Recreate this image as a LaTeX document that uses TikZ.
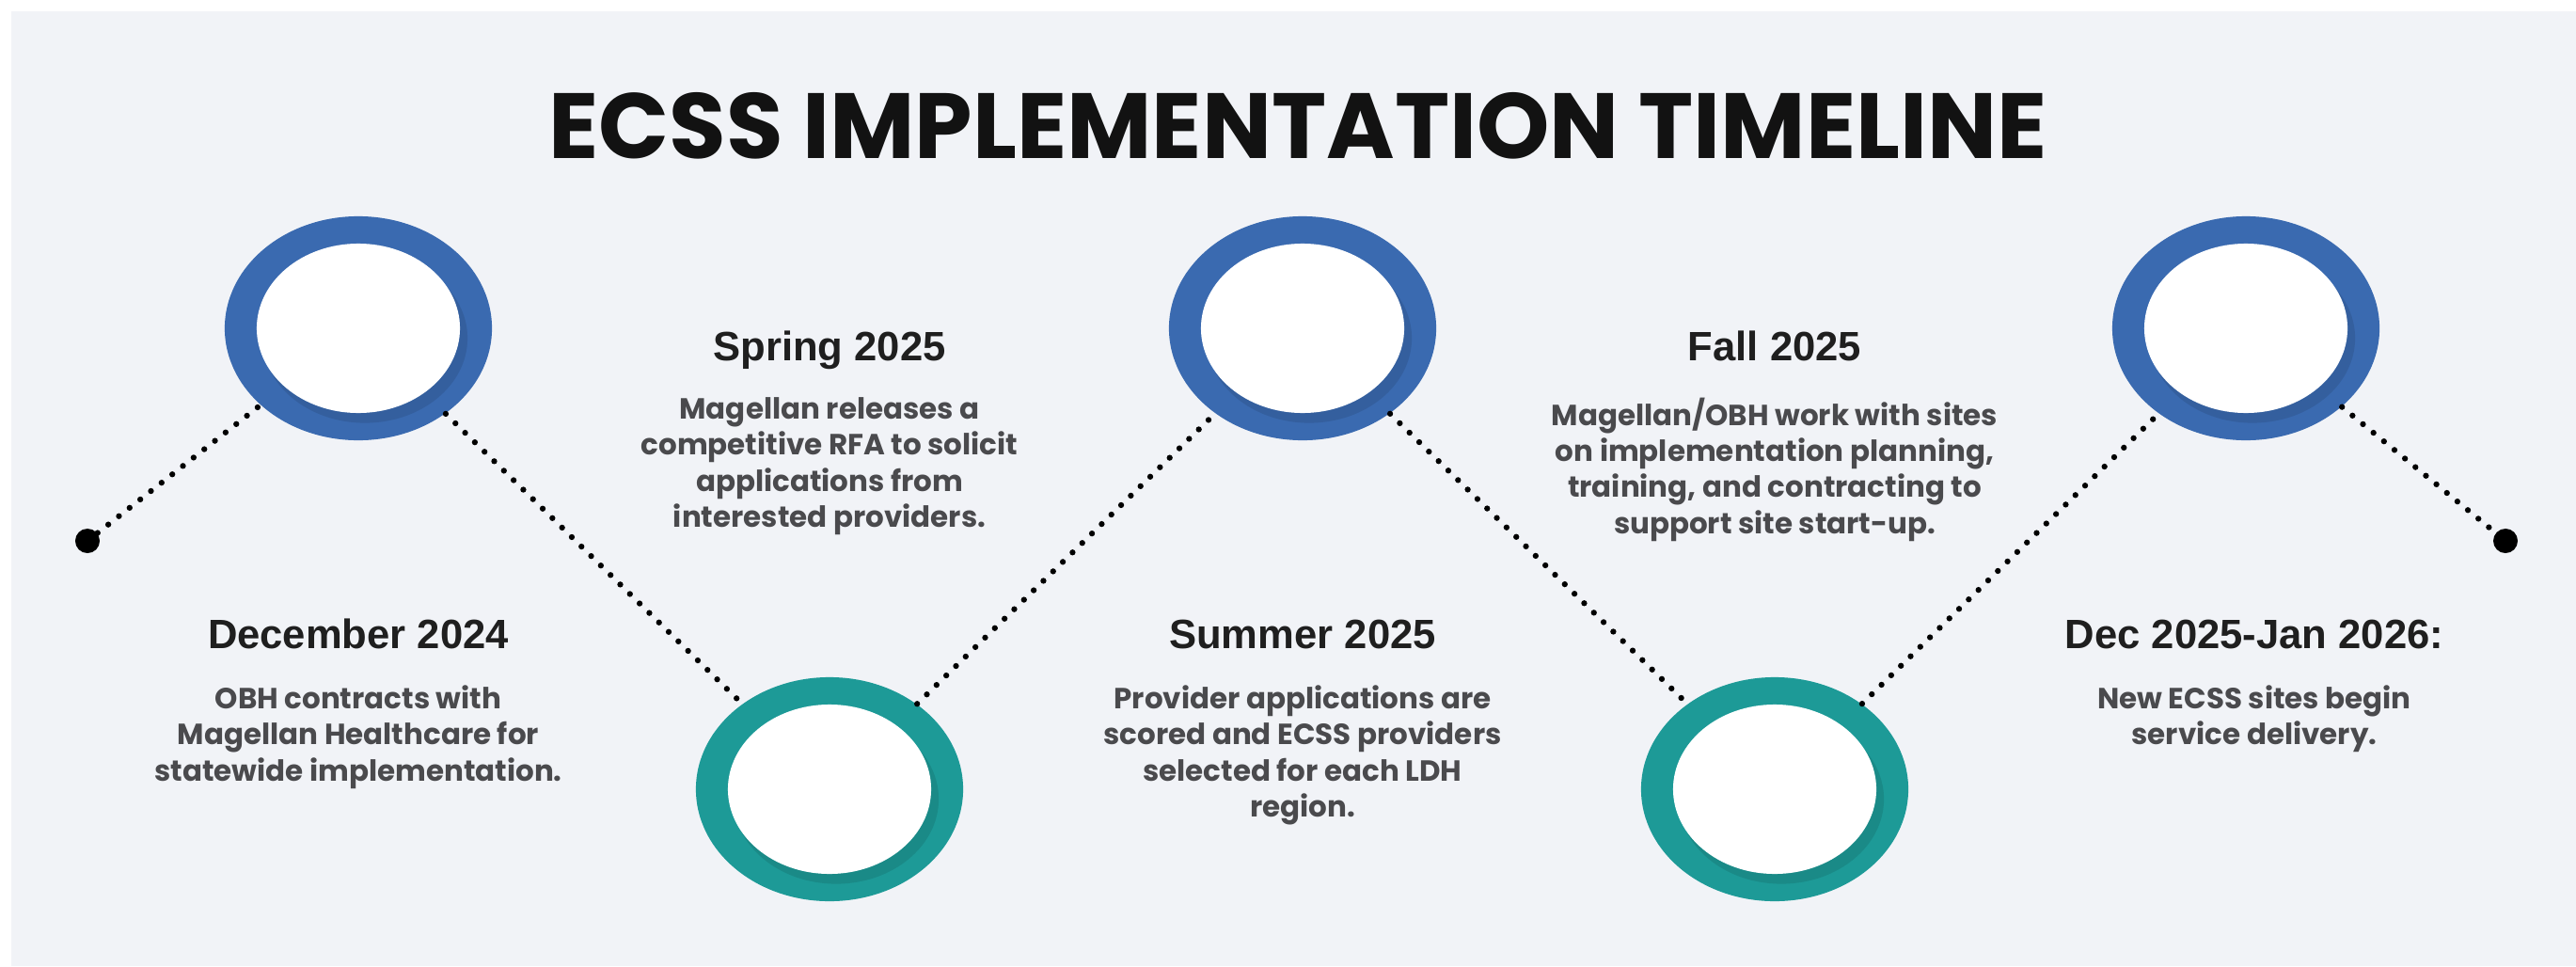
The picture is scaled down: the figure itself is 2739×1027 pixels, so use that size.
\documentclass[tikz,border=0pt]{standalone}
\usepackage{fontspec}
\setmainfont{Liberation Sans}
\newfontfamily\popfont{Poppins}
\usetikzlibrary{shapes.geometric,positioning}
\definecolor{ringblue}{HTML}{3A6AB0}
\definecolor{ringteal}{HTML}{1D9A97}
\definecolor{bggray}{HTML}{F1F3F7}
\definecolor{bodygray}{HTML}{4A4A4D}
\tikzstyle{every picture}+=[
  rnode/.style={shape=ellipse,minimum width=2.84cm,minimum height=2.38cm,inner sep=0pt,
    path picture={
      \fill[black,opacity=.1] ([xshift=2pt,yshift=-3pt]path picture bounding box.center) ellipse [x radius=1.09cm,y radius=0.9cm];
      \fill[white] (path picture bounding box.center) ellipse [x radius=1.08cm,y radius=0.9cm];}},
  bnode/.style={rnode,fill=ringblue},
  tnode/.style={rnode,fill=ringteal},
  dnode/.style={shape=circle,fill=black,minimum size=0.26cm,inner sep=0pt},
  dline/.style={draw=black,line width=1.8pt,line cap=round,dash pattern=on 0pt off 4.1pt},
  hnode/.style={font=\bfseries\fontsize{12.4}{14}\selectfont,text=black!88,inner sep=0pt,text height=9pt,text depth=2.5pt},
  pnode/.style={font=\popfont\bfseries\fontsize{8.8}{10.9}\selectfont,text=bodygray,align=center,inner sep=0pt}
]
\def\bodysep{0.29cm}

\begin{document}
\begin{tikzpicture}[x=0.01cm,y=-0.01cm]
      \useasboundingbox (0,0) rectangle (2739,1027);
      \fill[white] (0,0) rectangle (2739,1027);
      \fill[bggray] (12,12) rectangle (2739,1027);
      %
      \node[font=\popfont\bfseries\fontsize{28}{32}\selectfont,text=black!93] (tt) at (1380, 134) {ECSS IMPLEMENTATION TIMELINE};
      %
      \node[style=dnode] (s) at (93, 575) {};
      \node[style=dnode] (e) at (2664, 575) {};
      \node[style=bnode] (m1) at (381, 349) {};
      \node[style=tnode] (m2) at (882, 839) {};
      \node[style=bnode] (m3) at (1385, 349) {};
      \node[style=tnode] (m4) at (1887, 839) {};
      \node[style=bnode] (m5) at (2388, 349) {};
      %
      \path [dline] (s) -- (m1);
      \path [dline] (m1) -- (m2);
      \path [dline] (m2) -- (m3);
      \path [dline] (m3) -- (m4);
      \path [dline] (m4) -- (m5);
      \path [dline] (m5) -- (e);
      %
      \node[style=hnode] (h1) at (381, 678) {December 2024};
      \node[style=pnode,below=\bodysep of h1] (p1) {OBH contracts with\\Magellan Healthcare for\\statewide implementation.};
      \node[style=hnode] (h2) at (882, 372) {Spring 2025};
      \node[style=pnode,below=\bodysep of h2] (p2) {Magellan releases a\\competitive RFA to solicit\\applications from\\interested providers.};
      \node[style=hnode] (h3) at (1385, 678) {Summer 2025};
      \node[style=pnode,below=\bodysep of h3] (p3) {Provider applications are\\scored and ECSS providers\\selected for each LDH\\region.};
      \node[style=hnode] (h4) at (1887, 372) {Fall 2025};
      \node[style=pnode,below=\bodysep of h4] (p4) {Magellan/OBH work with sites\\on implementation planning,\\training, and contracting to\\support site start-up.};
      \node[style=hnode] (h5) at (2397, 678) {Dec 2025-Jan 2026:};
      \node[style=pnode,below=\bodysep of h5] (p5) {New ECSS sites begin\\service delivery.};
      %
\end{tikzpicture}
\end{document}
